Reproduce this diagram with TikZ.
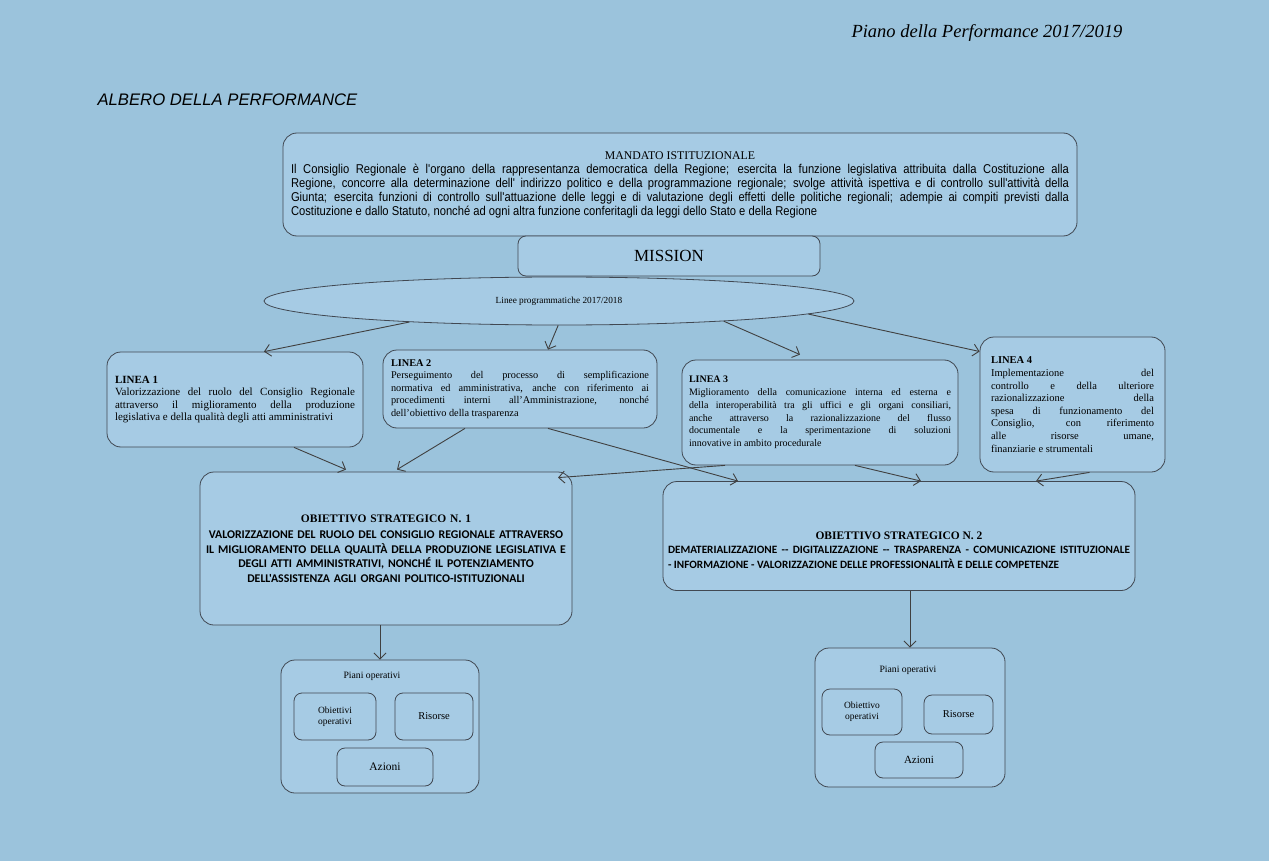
\documentclass[tikz,border=0pt]{standalone}
\usepackage{fontspec}
\setmainfont{Liberation Serif}
\newfontfamily\arialn[FakeStretch=0.875]{Liberation Sans}
\newfontfamily\arial{Liberation Sans}
\newfontfamily\calib{Carlito}
\usetikzlibrary{shapes.geometric,arrows.meta}
\definecolor{sfondo}{RGB}{155,195,220}
\definecolor{riempi}{RGB}{166,203,228}
\definecolor{bordo}{RGB}{65,72,82}
\begin{document}
\begin{tikzpicture}[x=1pt,y=-1pt,
  riquadro/.style={draw=bordo, fill=riempi, rounded corners=14pt, line width=0.8pt},
  linea/.style={riquadro, inner sep=0pt, align=justify},
  piccolo/.style={riquadro, rounded corners=8pt, inner sep=0pt, align=center, font=\fontsize{9.5}{11}\selectfont},
  freccia/.style={draw=black!75, line width=0.9pt, -{Straight Barb[length=6pt,width=12pt]}}]
\fill[sfondo] (0,0) rectangle (1269,861);
\useasboundingbox (0,0) rectangle (1269,861);

\node[anchor=west, font=\fontsize{18.5}{21}\selectfont\itshape] (piano) at (848,33) {Piano della Performance 2017/2019};
\node[anchor=west, font=\arial\itshape\fontsize{16.7}{19}\selectfont] (albero) at (94,100) {ALBERO DELLA PERFORMANCE};

\node[riquadro, minimum width=794, minimum height=103, text width=778, align=justify, inner sep=0pt, font=\arialn\fontsize{12.8}{14}\selectfont] (mandato) at (680,184.5) {{\centering\rmfamily\fontsize{11.8}{13}\selectfont MANDATO ISTITUZIONALE\par}
Il Consiglio Regionale è l'organo della rappresentanza democratica della Regione; esercita la funzione legislativa attribuita dalla Costituzione alla\linebreak
Regione, concorre alla determinazione dell' indirizzo politico e della programmazione regionale; svolge attività ispettiva e di controllo sull'attività della\linebreak
Giunta; esercita funzioni di controllo sull'attuazione delle leggi e di valutazione degli effetti delle politiche regionali; adempie ai compiti previsti dalla\linebreak
Costituzione e dallo Statuto, nonché ad ogni altra funzione conferitagli da leggi dello Stato e della Regione};
\node[riquadro, rounded corners=8pt, minimum width=302, minimum height=40, font=\fontsize{17}{20}\selectfont] (mission) at (669,256) {MISSION};
\node[draw=bordo, fill=riempi, ellipse, line width=0.8pt, minimum width=590, minimum height=48, font=\fontsize{9.3}{11}\selectfont] (linee) at (559,301) {Linee programmatiche 2017/2018};

\node[linea, minimum width=256, minimum height=95, text width=240, font=\fontsize{11}{12.5}\selectfont] (linea1) at (235,399.5) {\textbf{LINEA 1}\\
Valorizzazione del ruolo del Consiglio Regionale\linebreak attraverso il miglioramento della produzione\linebreak legislativa e della qualità degli atti amministrativi};
\node[linea, minimum width=274, minimum height=78, text width=258, font=\fontsize{10.3}{12.5}\selectfont] (linea2) at (520,389) {\textbf{LINEA 2}\\
Perseguimento del processo di semplificazione\linebreak normativa ed amministrativa, anche con riferimento ai\linebreak procedimenti interni all'Amministrazione, nonché\linebreak dell'obiettivo della trasparenza};
\node[linea, minimum width=276, minimum height=105, text width=262, font=\fontsize{10}{12.8}\selectfont] (linea3) at (820,412.5) {\textbf{LINEA 3}\\
Miglioramento della comunicazione interna ed esterna e\linebreak della interoperabilità tra gli uffici e gli organi consiliari,\linebreak anche attraverso la razionalizzazione del flusso\linebreak documentale e la sperimentazione di soluzioni\linebreak innovative in ambito procedurale};
\node[linea, minimum width=185, minimum height=135, text width=163, font=\fontsize{10.5}{12.6}\selectfont] (linea4) at (1072.5,404.5) {\textbf{LINEA 4}\\
Implementazione del\linebreak controllo e della ulteriore\linebreak razionalizzazione della\linebreak spesa di funzionamento del\linebreak Consiglio, con riferimento\linebreak alle risorse umane,\linebreak finanziarie e strumentali};

\node[riquadro, minimum width=372, minimum height=153, text width=366, inner sep=0pt, align=center, font=\calib\bfseries\fontsize{11.8}{14.5}\selectfont] (obj1) at (386,548.5) {{\rmfamily\fontsize{11.5}{14}\selectfont OBIETTIVO STRATEGICO N. 1}\\[2pt]
VALORIZZAZIONE DEL RUOLO DEL CONSIGLIO REGIONALE ATTRAVERSO\\
IL MIGLIORAMENTO DELLA QUALITÀ DELLA PRODUZIONE LEGISLATIVA E\\
DEGLI ATTI AMMINISTRATIVI, NONCHÉ IL POTENZIAMENTO\\
DELL'ASSISTENZA AGLI ORGANI POLITICO-ISTITUZIONALI};
\node[riquadro, minimum width=472, minimum height=109] (obj2) at (899,536) {};
\node[text width=462, inner sep=0pt, align=justify, font=\calib\bfseries\fontsize{11.2}{14.5}\selectfont] (obj2t) at (899,550) {{\centering\rmfamily\fontsize{11.5}{13}\selectfont OBIETTIVO STRATEGICO N. 2\par}
DEMATERIALIZZAZIONE -- DIGITALIZZAZIONE -- TRASPARENZA - COMUNICAZIONE ISTITUZIONALE\linebreak
- INFORMAZIONE - VALORIZZAZIONE DELLE PROFESSIONALITÀ E DELLE COMPETENZE};

\node[riquadro, minimum width=198, minimum height=133] (piani1) at (380,726.5) {};
\node[font=\fontsize{9.7}{11}\selectfont] (piani1t) at (372,676) {Piani operativi};
\node[piccolo, minimum width=82, minimum height=47] (obop1) at (335,716.5) {Obiettivi\\operativi};
\node[piccolo, minimum width=78, minimum height=47, font=\fontsize{10.5}{12}\selectfont] (ris1) at (434,716.5) {Risorse};
\node[piccolo, minimum width=96, minimum height=38, font=\fontsize{11.5}{13}\selectfont] (az1) at (385,767) {Azioni};

\node[riquadro, minimum width=190, minimum height=139] (piani2) at (910,717.5) {};
\node[font=\fontsize{9.7}{11}\selectfont] (piani2t) at (908,670) {Piani operativi};
\node[piccolo, minimum width=80, minimum height=46] (obop2) at (862,712) {Obiettivo\\operativi};
\node[piccolo, minimum width=69, minimum height=39, font=\fontsize{10.5}{12}\selectfont] (ris2) at (958.5,714.5) {Risorse};
\node[piccolo, minimum width=88, minimum height=36, font=\fontsize{11}{13}\selectfont] (az2) at (919,760) {Azioni};

\path[freccia] (linee.188) -- ([xshift=29pt]linea1.north);
\path[freccia] (linee.268) -- ([xshift=28pt]linea2.north);
\path[freccia] (linee.353) -- ([xshift=-20pt,yshift=5pt]linea3.north);
\path[freccia] (linee.357.6) -- ([yshift=53pt]linea4.west);

\path[freccia] ([xshift=59pt]linea1.south) -- ([xshift=-40pt,yshift=2pt]obj1.north);
\path[freccia] ([xshift=-55pt]linea2.south) -- ([xshift=11pt,yshift=2pt]obj1.north);
\path[freccia] ([xshift=28pt]linea2.south) -- ([xshift=-161pt]obj2.north);
\path[freccia] ([xshift=-95pt]linea3.south) -- ([xshift=172pt,yshift=-6pt]obj1.north);
\path[freccia] ([xshift=35pt]linea3.south) -- ([xshift=22pt]obj2.north);
\path[freccia] ([xshift=17pt]linea4.south) -- ([xshift=137pt]obj2.north);

\path[freccia] (obj1.south -| piani1.north) -- (piani1.north);
\path[freccia] (obj2.south -| piani2.north) -- (piani2.north);
\end{tikzpicture}
\end{document}
